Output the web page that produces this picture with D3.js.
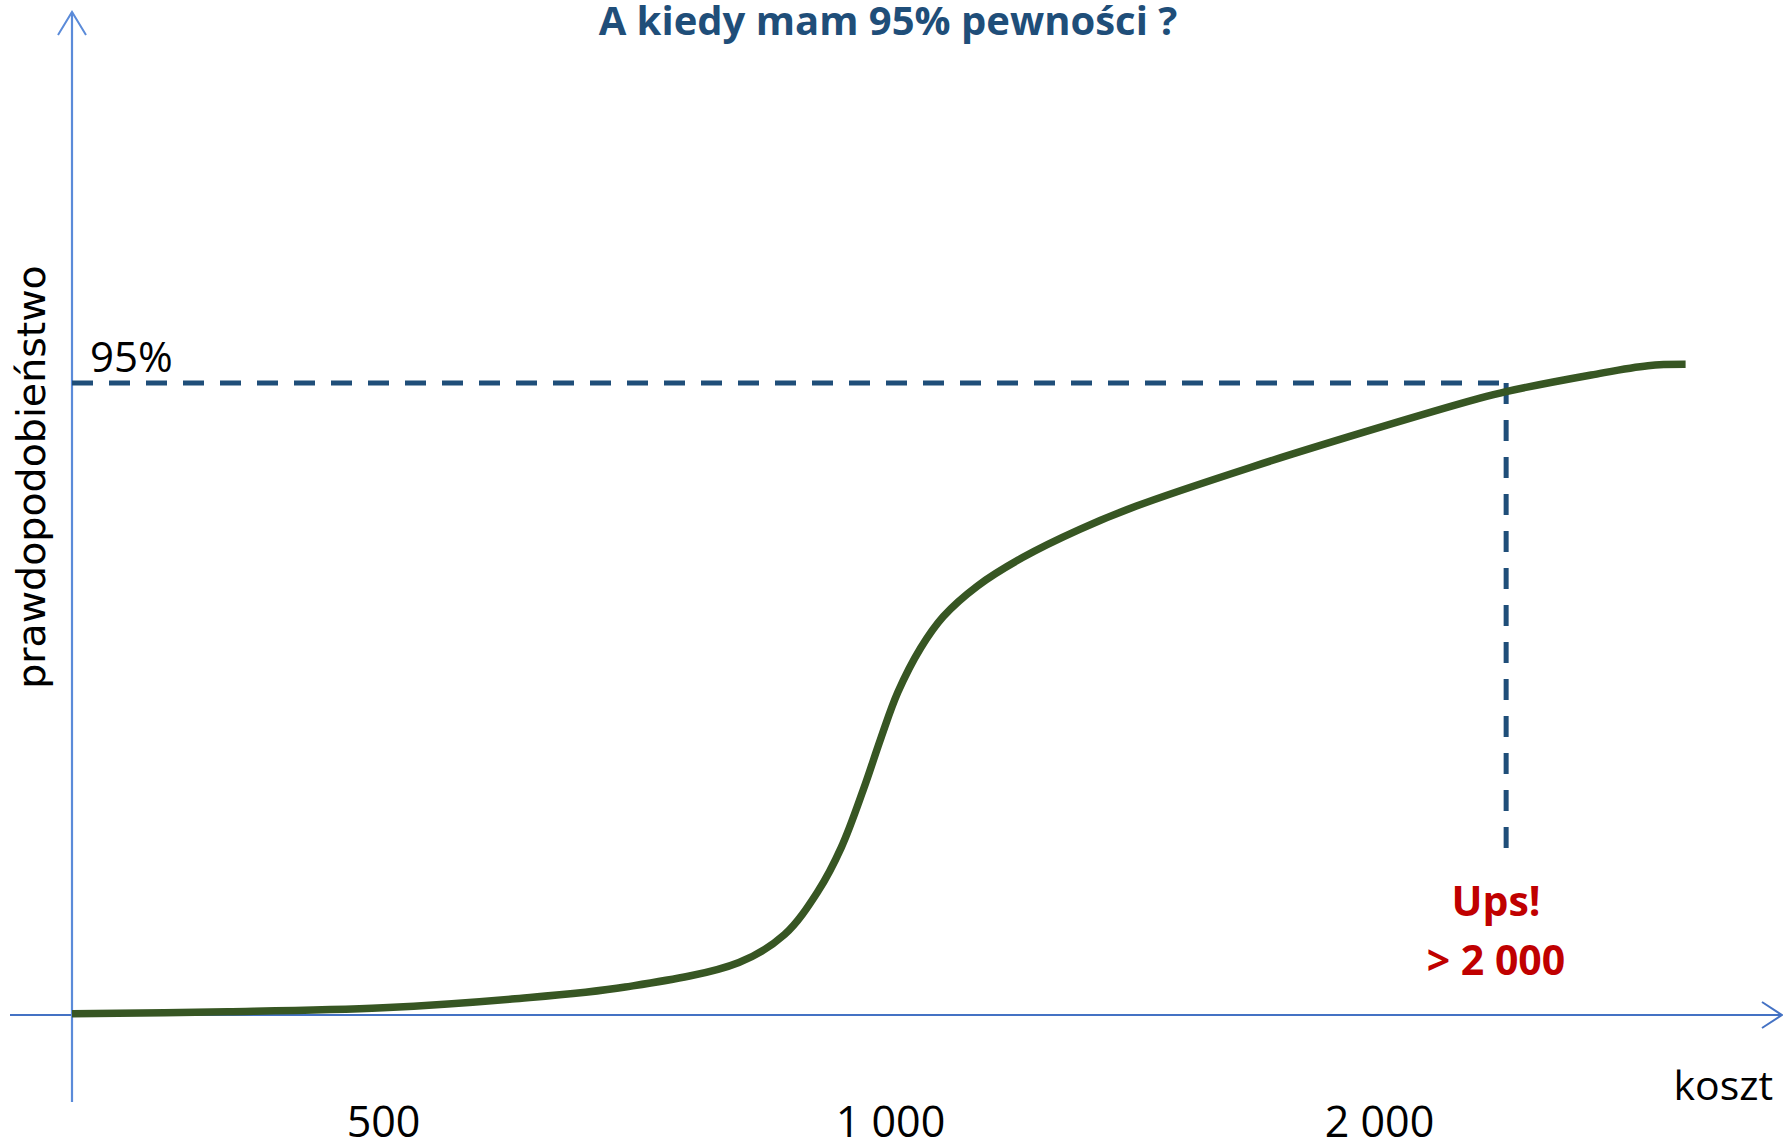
<!DOCTYPE html>
<html>
<head>
<meta charset="utf-8">
<script src="https://cdn.jsdelivr.net/npm/d3@7/dist/d3.min.js"></script>
<style>
body { margin: 0; background: #fff; }
</style>
</head>
<body>
<script>
var w = 1783;
var h = 1145;

// ticks on the cost axis
var tickValues = [500, 1000, 2000];
var tickLabels = ["500", "1 000", "2 000"];

// the curve: koszt -> prawdopodobieństwo
var costs = [0, 250, 500, 627, 739, 851, 896, 929, 952, 974, 991, 1016, 1063, 1109, 1179, 1272, 1388, 1504, 1737, 1969, 2201, 2260, 2434, 2550, 2627];
var probs = [0.002, 0.005, 0.011, 0.024, 0.042, 0.079, 0.121, 0.186, 0.252, 0.340, 0.416, 0.485, 0.552, 0.599, 0.645, 0.688, 0.730, 0.765, 0.823, 0.876, 0.926, 0.937, 0.962, 0.976, 0.978];

// 95% guide
var level = 0.95;
var levelCost = 2260;
var guideBottom = 0.237;

var blue = "#5b8bd9";
var green = "#375623";
var navy = "#1f4e79";
var red = "#c00000";

var svg = d3.select("body")
	.append("svg")
	.attr("width", w)
	.attr("height", h);

// cost axis is not linear in the sketch, so a piecewise scale
var x = d3.scaleLinear()
	.domain([0, 500, 1000, 2000])
	.range([72, 383, 890, 1379]);

var y = d3.scaleLinear()
	.domain([0, 1])
	.range([1015, 349.7]);

//title
svg.append("text")
	.attr("x", 888)
	.attr("y", 35)
	.attr("text-anchor", "middle")
	.attr("font-family", "'Open Sans', sans-serif")
	.attr("font-weight", "bold")
	.attr("font-size", "40px")
	.attr("fill", navy)
	.text("A kiedy mam 95% pewności ?");

//axes with arrows
svg.append("line")
	.attr("x1", 10).attr("y1", y(0))
	.attr("x2", 1782).attr("y2", y(0))
	.attr("stroke", "#4472c4")
	.attr("stroke-width", 2);
svg.append("polyline")
	.attr("points", "1762,1002 1782," + y(0) + " 1762,1028")
	.attr("fill", "none")
	.attr("stroke", "#4472c4")
	.attr("stroke-width", 2);

svg.append("line")
	.attr("x1", x(0)).attr("y1", 1102)
	.attr("x2", x(0)).attr("y2", 12)
	.attr("stroke", blue)
	.attr("stroke-width", 2.2);
svg.append("polyline")
	.attr("points", "58,35 " + x(0) + ",12 86,35")
	.attr("fill", "none")
	.attr("stroke", blue)
	.attr("stroke-width", 2);

var xAxis = d3.axisBottom(x)
	.tickValues(tickValues)
	.tickFormat(function(d, i) {
		return tickLabels[i];
	})
	.tickSize(0)
	.tickPadding(91);

var gx = svg.append("g")
	.attr("transform", "translate(0," + y(0) + ")")
	.call(xAxis);
gx.select(".domain").remove();
gx.selectAll("text")
	.attr("font-family", "'Open Sans', sans-serif")
	.attr("font-size", "43px")
	.attr("fill", "#000");

svg.append("text")
	.attr("x", 1773)
	.attr("y", 1100)
	.attr("text-anchor", "end")
	.attr("font-family", "'Open Sans', sans-serif")
	.attr("font-size", "41px")
	.attr("fill", "#000")
	.text("koszt");

svg.append("text")
	.attr("transform", "translate(45,477) rotate(-90)")
	.attr("text-anchor", "middle")
	.attr("font-family", "'DejaVu Sans', sans-serif")
	.attr("font-size", "39.5px")
	.attr("fill", "#000")
	.text("prawdopodobieństwo");

//guides
svg.append("line")
	.attr("x1", x(0)).attr("y1", y(level))
	.attr("x2", x(levelCost)).attr("y2", y(level))
	.attr("stroke", navy)
	.attr("stroke-width", 5)
	.attr("stroke-dasharray", "21 16");
svg.append("line")
	.attr("x1", x(levelCost)).attr("y1", y(level))
	.attr("x2", x(levelCost)).attr("y2", y(guideBottom))
	.attr("stroke", navy)
	.attr("stroke-width", 5)
	.attr("stroke-dasharray", "21 16");

svg.append("text")
	.attr("x", 90)
	.attr("y", 372)
	.attr("font-family", "'Open Sans', sans-serif")
	.attr("font-size", "42px")
	.attr("fill", "#000")
	.text("95%");

//curve
var line = d3.line()
	.x(function(d) { return x(d[0]); })
	.y(function(d) { return y(d[1]); })
	.curve(d3.curveCatmullRom);

svg.append("path")
	.datum(d3.zip(costs, probs))
	.attr("d", line)
	.attr("fill", "none")
	.attr("stroke", green)
	.attr("stroke-width", 7.5);

//annotation
svg.append("text")
	.attr("x", 1496)
	.attr("y", 916)
	.attr("text-anchor", "middle")
	.attr("font-family", "'Open Sans', sans-serif")
	.attr("font-weight", "bold")
	.attr("font-size", "41px")
	.attr("fill", red)
	.text("Ups!");
svg.append("text")
	.attr("x", 1496)
	.attr("y", 975)
	.attr("text-anchor", "middle")
	.attr("font-family", "'Open Sans', sans-serif")
	.attr("font-weight", "bold")
	.attr("font-size", "41px")
	.attr("fill", red)
	.text("> 2 000");
</script>
</body>
</html>
